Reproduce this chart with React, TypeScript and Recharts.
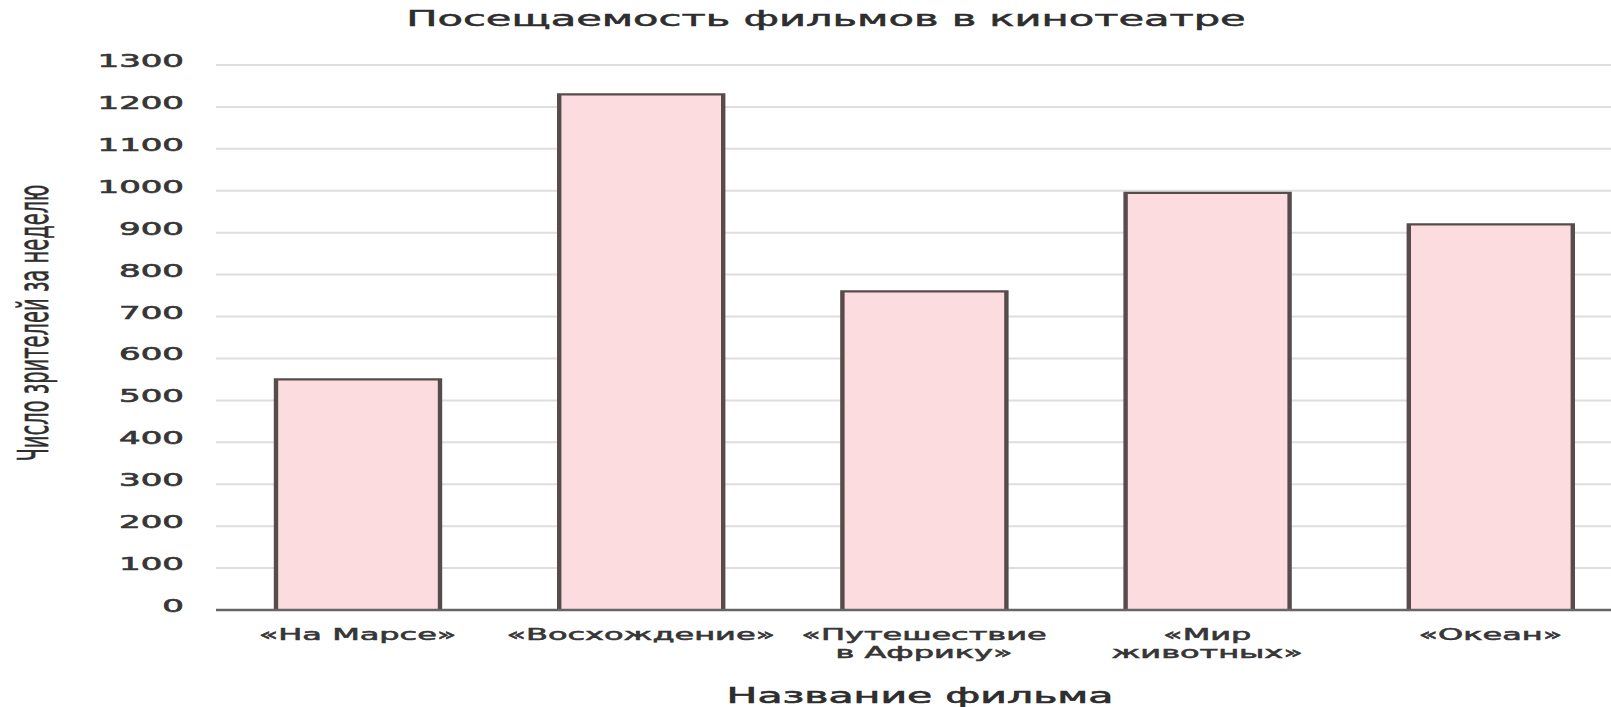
import { BarChart, Bar, XAxis, YAxis, CartesianGrid, Label } from "recharts";

// Weekly audience per film
const FILMS = ["«На Марсе»", "«Восхождение»", "«Путешествие в Африку»", "«Мир животных»", "«Океан»"];
const FILM_TICK_LINES = [["«На Марсе»"], ["«Восхождение»"], ["«Путешествие", "в Африку»"], ["«Мир", "животных»"], ["«Океан»"]];
const VIEWERS = [550, 1230, 760, 995, 920];
const Y_TICKS = [0, 100, 200, 300, 400, 500, 600, 700, 800, 900, 1000, 1100, 1200, 1300];

const TITLE = "Посещаемость фильмов в кинотеатре";
const X_TITLE = "Название фильма";
const Y_TITLE = "Число зрителей за неделю";

// the chart is laid out narrow and stretched horizontally as a whole
const STRETCH = 2;
const VIEW_W = 1611;
const VIEW_H = 707;
const CHART_W = 816;
const CHART_H = 707;

const FONT = '"DejaVu Sans", sans-serif';
const INK = "#363636";
const TITLE_INK = "#2e2e2e";

const rows = FILMS.map((name, i) => ({ name, viewers: VIEWERS[i] }));

function FilmTick({ x, y, payload }: { x?: number; y?: number; payload?: { value: string } }) {
  const idx = FILMS.indexOf(payload?.value ?? "");
  const lines = FILM_TICK_LINES[idx] ?? [payload?.value ?? ""];
  return (
    <text
      x={x}
      y={y}
      textAnchor="middle"
      fill={INK}
      stroke={INK}
      strokeWidth={0.55}
      fontSize={16}
      fontFamily={FONT}
    >
      {lines.map((line, i) => (
        <tspan key={i} x={x} dy={i === 0 ? 30 : 18}>
          {line}
        </tspan>
      ))}
    </text>
  );
}

function CountTick({ x, y, payload }: { x?: number; y?: number; payload?: { value: number } }) {
  return (
    <text
      x={x}
      y={(y ?? 0) + 2}
      textAnchor="end"
      fill={INK}
      stroke={INK}
      strokeWidth={0.6}
      fontSize={17}
      fontFamily={FONT}
    >
      {payload?.value}
    </text>
  );
}

export default function App() {
  return (
    <div
      style={{
        position: "fixed",
        left: 0,
        top: 0,
        width: VIEW_W,
        height: VIEW_H,
        overflow: "hidden",
        background: "#fff",
      }}
    >
      <div style={{ position: "relative", width: CHART_W, height: CHART_H, transform: `scaleX(${STRETCH})`, transformOrigin: "0 0" }}>
        <div
          style={{
            position: "absolute",
            left: 113,
            width: 600,
            top: 9,
            textAlign: "center",
            fontFamily: FONT,
            fontSize: 20.8,
            lineHeight: "20px",
            color: TITLE_INK,
            WebkitTextStroke: `0.5px ${TITLE_INK}`,
            whiteSpace: "nowrap",
          }}
        >
          {TITLE}
        </div>
        <BarChart
          width={CHART_W}
          height={CHART_H}
          data={rows}
          margin={{ top: 65, right: 0, bottom: 0, left: 0 }}
          barSize={82}
        >
          <CartesianGrid vertical={false} stroke="#dedede" strokeWidth={2} />
          <XAxis
            dataKey="name"
            height={97}
            interval={0}
            tickLine={false}
            tickSize={0}
            tickMargin={0}
            axisLine={{ stroke: "#666", strokeWidth: 2.5 }}
            tick={<FilmTick />}
          >
            <Label
              value={X_TITLE}
              content={({ viewBox }: any) => (
                <text
                  x={viewBox.x + viewBox.width / 2 - 2}
                  y={viewBox.y + 93}
                  textAnchor="middle"
                  fill={TITLE_INK}
                  stroke={TITLE_INK}
                  strokeWidth={0.6}
                  fontSize={20.5}
                  fontFamily={FONT}
                >
                  {X_TITLE}
                </text>
              )}
            />
          </XAxis>
          <YAxis
            width={108}
            domain={[0, 1300]}
            ticks={Y_TICKS}
            interval={0}
            axisLine={false}
            tickLine={false}
            tickSize={0}
            tickMargin={16}
            tick={<CountTick />}
          >
            <Label
              value={Y_TITLE}
              content={({ viewBox }: any) => (
                <text
                  transform={`translate(24, ${viewBox.y + viewBox.height / 2 - 14.5}) rotate(-90) scale(1, 1.1)`}
                  textAnchor="middle"
                  fill={TITLE_INK}
                  stroke={TITLE_INK}
                  strokeWidth={0.25}
                  fontSize={19.5}
                  fontFamily={FONT}
                >
                  {Y_TITLE}
                </text>
              )}
            />
          </YAxis>
          <Bar dataKey="viewers" fill="#fddcdf" stroke="#574b4b" strokeWidth={2.2} isAnimationActive={false} />
        </BarChart>
      </div>
    </div>
  );
}
